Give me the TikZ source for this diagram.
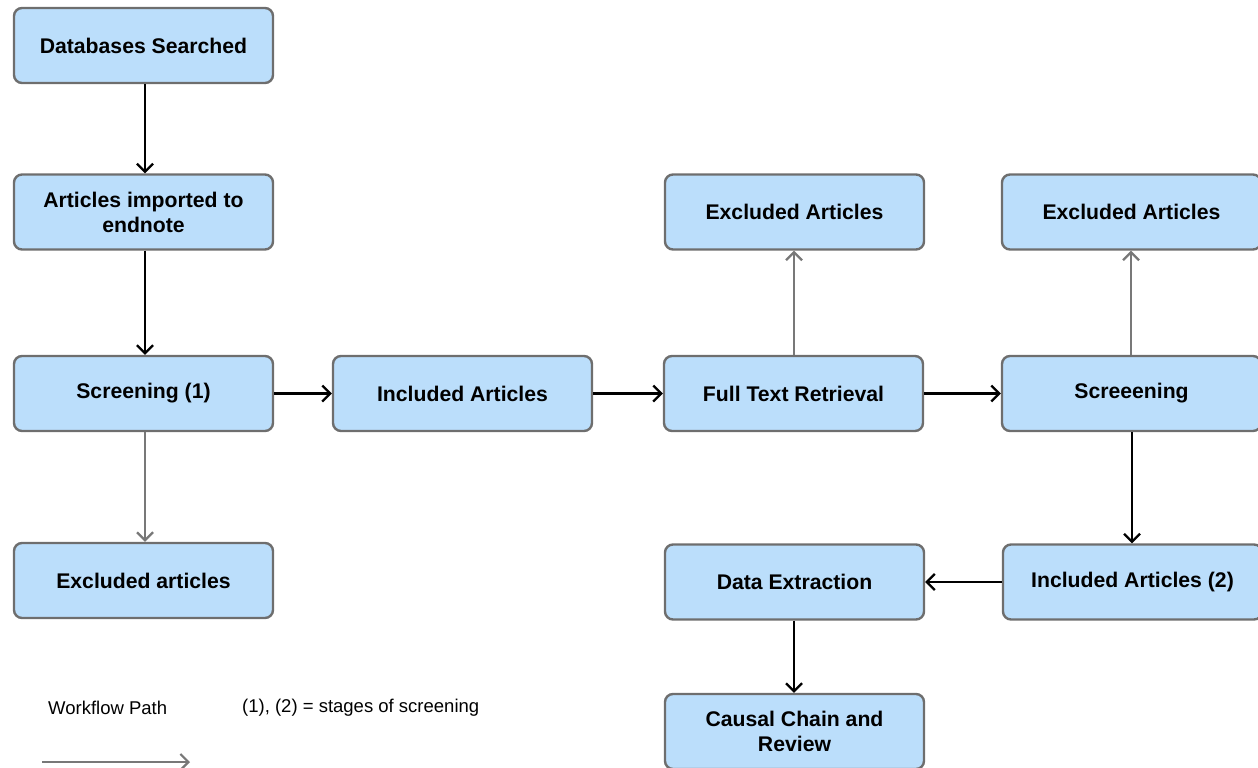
\documentclass[tikz,border=0pt]{standalone}
\usepackage{fontspec}
\setmainfont{Liberation Sans}
\usetikzlibrary{arrows.meta}
\definecolor{boxfill}{RGB}{187,222,251}
\definecolor{boxline}{RGB}{110,110,110}
\definecolor{grayarrow}{RGB}{120,120,120}
\tikzset{
  box/.style={draw=boxline, line width=2.4pt, fill=boxfill, rounded corners=8pt,
    minimum width=259pt, minimum height=75pt, inner sep=0pt, align=center,
    font=\fontsize{21.2}{25}\selectfont\bfseries},
  flow/.style={line width=2.2pt, draw=black, -{Straight Barb[length=8pt,width=16pt]}},
  excl/.style={line width=2.2pt, draw=grayarrow, -{Straight Barb[length=8pt,width=16pt]}},
  legend/.style={font=\fontsize{18.5}{22}\selectfont, inner sep=0pt}
}
\begin{document}
\begin{tikzpicture}[x=1pt,y=-1pt]
\useasboundingbox (0,0) rectangle (1258,768);
\node[box] (db) at (143.5,45.5) {Databases Searched};
\node[box] (imp) at (143.5,212) {Articles imported to\\endnote};
\node[box] (scr1) at (143.5,393.5) {Screening (1)};
\node[box] (exc1) at (143.5,580.5) {Excluded articles};
\node[box] (inc1) at (462.5,393.5) {Included Articles};
\node[box] (ftr) at (793.5,393.5) {Full Text Retrieval};
\node[box] (exc2) at (794.5,212) {Excluded Articles};
\node[box] (scr2) at (1131.5,393.5) {Screeening};
\node[box] (exc3) at (1131.5,212) {Excluded Articles};
\node[box] (inc2) at (1132.5,582) {Included Articles (2)};
\node[box] (dex) at (794.5,582) {Data Extraction};
\node[box] (ccr) at (794.5,731.5) {Causal Chain and\\Review};

\draw[flow] (db.south -| 145,0) -- (imp.north -| 145,0);
\draw[flow] (imp.south -| 145,0) -- (scr1.north -| 145,0);
\draw[excl] (scr1.south -| 145,0) -- (exc1.north -| 145,0);
\draw[flow] (scr1) -- (inc1);
\draw[flow] (inc1) -- (ftr);
\draw[excl] (ftr.north -| 794,0) -- (exc2.south -| 794,0);
\draw[flow] (ftr) -- (scr2);
\draw[excl] (scr2.north -| 1131,0) -- (exc3.south -| 1131,0);
\draw[flow] (scr2.south -| 1132,0) -- (inc2.north -| 1132,0);
\draw[flow] (inc2) -- (dex);
\draw[flow] (dex.south -| 794,0) -- (ccr.north -| 794,0);

\node[legend, anchor=west] (lgwf) at (48,708) {Workflow Path};
\coordinate (la) at (42,762);
\coordinate (lb) at (190,762);
\draw[excl] (la) -- (lb);
\node[legend, anchor=west] (lgst) at (242,708) {(1), (2) = stages of screening};
\end{tikzpicture}
\end{document}
